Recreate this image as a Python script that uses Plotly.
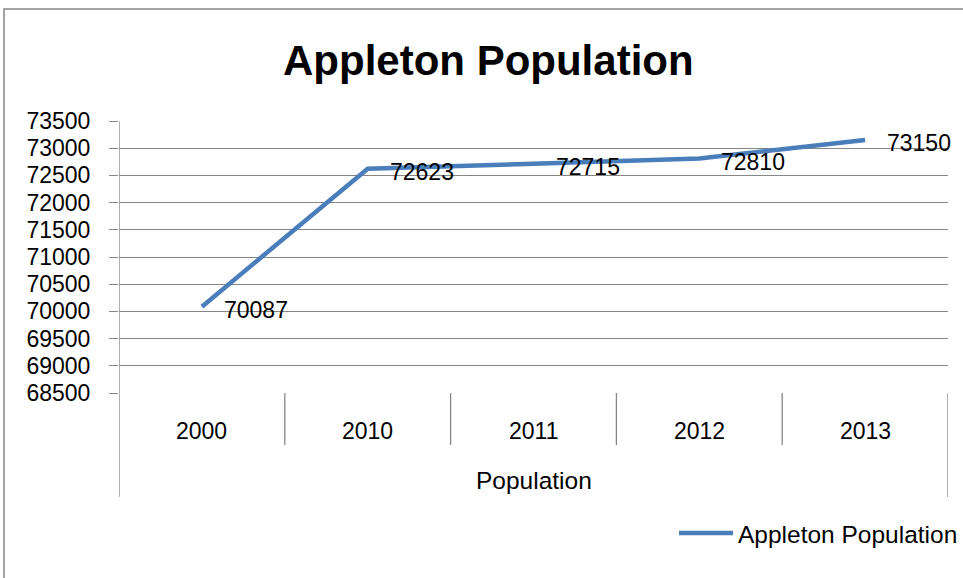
import plotly.graph_objects as go

years = ["2000", "2010", "2011", "2012", "2013"]
population = [70087, 72623, 72715, 72810, 73150]
y_ticks = [68500, 69000, 69500, 70000, 70500, 71000, 71500, 72000, 72500, 73000, 73500]
series_name = "Appleton Population"
axis_title = "Population"
chart_title = "Appleton Population"

W, H = 963, 578
FONT = "Liberation Sans"
GRID = "#868686"
LINE = "#4A7EBB"
NUM_SIZE = 23
WORD_SIZE = 24.5

def px(x):
    return x / W

def py(y):
    return 1 - y / H

n = len(years)
idx = list(range(n))

fig = go.Figure()
fig.add_trace(go.Scatter(
    x=idx, y=population, mode="lines",
    line=dict(color=LINE, width=4.5),
    name=series_name, showlegend=False,
    customdata=years, hovertemplate="%{customdata}: %{y}<extra></extra>",
))

# data labels
for i, val in zip(idx, population):
    fig.add_annotation(x=i, y=val, xref="x", yref="y", text=str(val),
                       showarrow=False, xanchor="left", yanchor="middle",
                       xshift=20, yshift=-3,
                       font=dict(family=FONT, size=NUM_SIZE, color="#000000"))

shapes = []
# category dividers
for i in range(n + 1):
    bottom = 497 if i in (0, n) else 445
    shapes.append(dict(type="line", xref="x", yref="paper",
                       x0=i - 0.5, x1=i - 0.5, y0=py(393), y1=py(bottom),
                       line=dict(color=GRID, width=1.3)))
# y axis line
shapes.append(dict(type="line", xref="x", yref="paper", x0=-0.5, x1=-0.5,
                   y0=py(121), y1=py(393), line=dict(color=GRID, width=1.3)))
# chart border
shapes.append(dict(type="rect", xref="paper", yref="paper",
                   x0=px(4), x1=px(975), y0=py(9), y1=py(590),
                   line=dict(color=GRID, width=1.5)))
# legend sample
shapes.append(dict(type="line", xref="paper", yref="paper",
                   x0=px(679), x1=px(733), y0=py(533), y1=py(533),
                   line=dict(color=LINE, width=4.5)))
fig.update_layout(shapes=shapes)

# category labels
for i, cat in zip(idx, years):
    fig.add_annotation(x=i, xref="x", y=py(431), yref="paper", text=cat,
                       showarrow=False, xanchor="center", yanchor="middle",
                       font=dict(family=FONT, size=NUM_SIZE, color="#000000"))
# axis title
fig.add_annotation(x=0.5 * (px(119) + px(948)), xref="paper", y=py(480), yref="paper",
                   text=axis_title, showarrow=False, xanchor="center", yanchor="middle",
                   font=dict(family=FONT, size=WORD_SIZE, color="#000000"))
# legend text
fig.add_annotation(x=px(736), xref="paper", y=py(534), yref="paper",
                   text=series_name, showarrow=False, xanchor="left", yanchor="middle",
                   font=dict(family=FONT, size=WORD_SIZE, color="#000000"))
# title
fig.add_annotation(x=px(489), xref="paper", y=py(61), yref="paper",
                   text="<b>" + chart_title + "</b>", showarrow=False,
                   xanchor="center", yanchor="middle",
                   font=dict(family=FONT, size=42, color="#000000"))

fig.update_layout(
    template="none",
    width=W, height=H,
    margin=dict(l=0, r=0, t=0, b=0, pad=0, autoexpand=False),
    paper_bgcolor="white", plot_bgcolor="white",
    showlegend=False,
    xaxis=dict(domain=[px(119), px(948)], range=[-0.5, n - 0.5],
               showticklabels=False, showgrid=False, zeroline=False,
               showline=False, ticks="", fixedrange=True, automargin=False),
    yaxis=dict(domain=[py(393), py(121)], range=[68500, 73500],
               tickvals=y_ticks, ticktext=[str(v) for v in y_ticks],
               showgrid=True, gridcolor=GRID, gridwidth=1.3,
               zeroline=False, showline=False, automargin=False,
               ticks="outside", ticklen=9, tickcolor=GRID, tickwidth=1.3,
               ticklabelstandoff=14,
               tickfont=dict(family=FONT, size=NUM_SIZE, color="#000000"),
               fixedrange=True),
)

fig.write_html("out.html", config={"displayModeBar": False})
